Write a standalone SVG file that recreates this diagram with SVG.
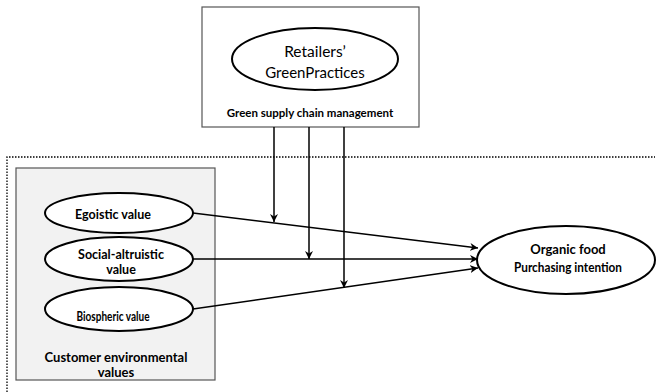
<svg xmlns="http://www.w3.org/2000/svg" width="657" height="392" viewBox="0 0 657 392">
<style>
text{font-family:Lato,"Open Sans","Liberation Sans",sans-serif;fill:#000;text-anchor:middle}
.b{font-weight:bold}
.ell{fill:#fff;stroke:#000;stroke-width:2}
.box{stroke:#555;stroke-width:1.2}
.con{stroke:#000;stroke-width:1.5;fill:none;marker-end:url(#ah)}
</style>
<defs>
<marker id="ah" viewBox="0 0 10 10" refX="10" refY="5" markerWidth="8" markerHeight="8" markerUnits="userSpaceOnUse" orient="auto">
<path d="M0,0 L10,5 L0,10 L3,5 z" fill="#000"/>
</marker>
</defs>
<path d="M7,392 V157 H655" fill="none" stroke="#000" stroke-width="1.3" stroke-dasharray="1.5,1.5"/>
<g id="gscm">
<rect class="box" x="202" y="7" width="217" height="120" fill="#fff"/>
<text class="b" x="310" y="117" font-size="11.5">Green supply chain management</text>
</g>
<g id="retailers">
<ellipse class="ell" cx="315" cy="59" rx="83" ry="31"/>
<text x="315" y="57" font-size="15.5">Retailers’</text>
<text x="315" y="78" font-size="15">GreenPractices</text>
</g>
<g id="cev">
<rect class="box" x="16" y="168" width="199" height="212" fill="#f2f2f2"/>
<text class="b" x="116" y="362" font-size="13">Customer environmental</text>
<text class="b" x="116" y="377" font-size="13">values</text>
</g>
<g id="egoistic">
<ellipse class="ell" cx="119" cy="213" rx="74" ry="20"/>
<text class="b" x="113" y="219" font-size="12.5">Egoistic value</text>
</g>
<g id="social">
<ellipse class="ell" cx="119" cy="259" rx="74" ry="22"/>
<text class="b" x="121" y="259" font-size="12.5">Social-altruistic</text>
<text class="b" x="121" y="274" font-size="12.5">value</text>
</g>
<g id="biospheric">
<ellipse class="ell" cx="119" cy="309" rx="74" ry="22"/>
<text class="b" x="113" y="321" font-size="12.5" textLength="73" lengthAdjust="spacingAndGlyphs">Biospheric value</text>
</g>
<g id="organic">
<ellipse class="ell" cx="566" cy="260" rx="89" ry="34"/>
<text class="b" x="568" y="254" font-size="13">Organic food</text>
<text class="b" x="568" y="272" font-size="13" textLength="108" lengthAdjust="spacingAndGlyphs">Purchasing intention</text>
</g>
<g id="connectors">
<path class="con" d="M193,213 L478,248"/>
<path class="con" d="M193,259 L478,259"/>
<path class="con" d="M193,309 L478,268"/>
<path class="con" d="M274,127 V222"/>
<path class="con" d="M309,127 V259"/>
<path class="con" d="M344,127 V288"/>
</g>
</svg>
